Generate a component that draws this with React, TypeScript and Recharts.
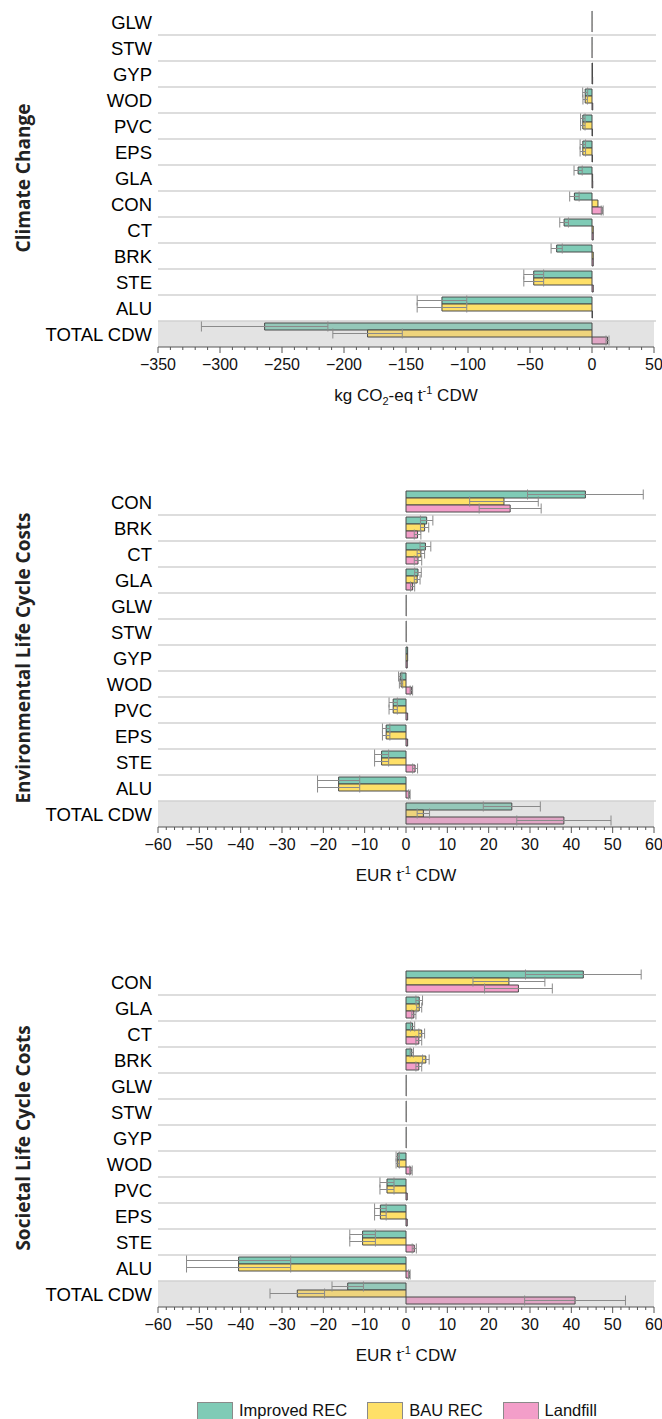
import React from "react";
import { BarChart, Bar, XAxis, YAxis, ErrorBar, ReferenceArea, Cell } from "recharts";

const SERIES = ["Improved REC", "BAU REC", "Landfill"];
const COLORS = ["#7fcbb6", "#fee068", "#f39ec9"];
const TOTAL_COLORS = ["#94c8b9", "#eed47c", "#e0a6c5"];

// Climate Change (kg CO2-eq / t CDW)
const ccCategories = ["GLW", "STW", "GYP", "WOD", "PVC", "EPS", "GLA", "CON", "CT", "BRK", "STE", "ALU", "TOTAL CDW"];
const ccImproved = [0.1, 0.1, 0.4, -5.5, -7.4, -7.4, -11.2, -14.2, -22.5, -28.5, -47, -121, -264];
const ccImprovedErr = [null, null, null, 2, 1.8, 2.2, 3.3, 3.8, 3.5, 4.5, 8, 20, 51];
const ccBau = [0.1, 0.1, 0.4, -5.5, -7.4, -7.4, 0.5, 4.8, 1, 1, -47, -121, -181];
const ccBauErr = [null, null, null, 1.8, 1.8, 2.2, null, null, null, null, 8, 20, 28];
const ccLandfill = [0.1, 0.1, 0.5, 0.6, 0.4, 0.4, 0.6, 8.2, 1, 1, 1, 0.4, 12.5];
const ccLandfillErr = [null, null, null, null, null, null, null, 0.8, null, null, null, null, 1.2];
const ccMajorTicks = [-350, -300, -250, -200, -150, -100, -50, 0, 50];

// Environmental Life Cycle Costs (EUR / t CDW)
const envCategories = ["CON", "BRK", "CT", "GLA", "GLW", "STW", "GYP", "WOD", "PVC", "EPS", "STE", "ALU", "TOTAL CDW"];
const envImproved = [43.4, 5.0, 4.7, 2.9, 0.1, 0.1, 0.4, -1.4, -3.1, -4.8, -5.9, -16.3, 25.6];
const envImprovedErr = [14, 1.5, 1.3, 0.8, null, null, null, 0.4, 1, 0.9, 1.7, 5.1, 6.9];
const envBau = [23.7, 4.5, 3.6, 2.7, 0.1, 0.1, 0.4, -1.2, -3.1, -4.8, -5.9, -16.3, 4.2];
const envBauErr = [8.3, 1, 0.9, 0.7, null, null, null, 0.4, 1, 0.9, 1.7, 5.1, 1.5];
const envLandfill = [25.2, 2.8, 2.9, 1.6, 0.1, 0.1, 0.3, 1.3, 0.4, 0.4, 2.2, 0.8, 38.2];
const envLandfillErr = [7.5, 0.8, 0.9, 0.5, null, null, null, 0.3, null, null, 0.6, 0.2, 11.4];

// Societal Life Cycle Costs (EUR / t CDW)
const socCategories = ["CON", "GLA", "CT", "BRK", "GLW", "STW", "GYP", "WOD", "PVC", "EPS", "STE", "ALU", "TOTAL CDW"];
const socImproved = [42.9, 3.2, 1.6, 1.4, 0.1, 0.1, 0.1, -2, -4.6, -6.2, -10.5, -40.5, -14.1];
const socImprovedErr = [14, 0.8, 0.5, 0.4, null, null, null, 0.4, 1.7, 1.4, 3.1, 12.6, 3.8];
const socBau = [24.9, 3.2, 3.8, 4.8, 0.1, 0.1, 0.1, -2, -4.6, -6.2, -10.5, -40.5, -26.3];
const socBauErr = [8.7, 0.6, 0.7, 0.8, null, null, null, 0.4, 1.7, 1.4, 3.1, 12.6, 6.6];
const socLandfill = [27.2, 1.9, 3.1, 3.1, 0.1, 0.1, 0.1, 1.2, 0.3, 0.3, 2.0, 0.8, 40.9];
const socLandfillErr = [8.2, 0.5, 0.7, 0.7, null, null, null, 0.3, null, null, 0.5, 0.2, 12.2];

const lccMajorTicks = [-60, -50, -40, -30, -20, -10, 0, 10, 20, 30, 40, 50, 60];

const FONT = "'Liberation Sans', Arial, sans-serif";

const buildRows = (cats: string[], vals: number[][], errs: (number | null)[][]) =>
  cats.map((cat, i) => ({
    cat,
    s0: vals[0][i], e0: errs[0][i],
    s1: vals[1][i], e1: errs[1][i],
    s2: vals[2][i], e2: errs[2][i],
  }));

// minor ticks between the labelled ones (axis decoration only)
const withMinor = (major: number[], perStep: number) => {
  const out: number[] = [];
  for (let i = 0; i < major.length - 1; i++) {
    const step = (major[i + 1] - major[i]) / perStep;
    for (let k = 0; k < perStep; k++) out.push(major[i] + k * step);
  }
  out.push(major[major.length - 1]);
  return out;
};

const fmt = (v: number) => (v < 0 ? "\u2212" + Math.abs(v) : String(v));

const makeTick = (major: number[]) => (props: any) => {
  const { x, y, payload } = props;
  const isMajor = major.includes(payload.value);
  return (
    <g>
      <line x1={x} x2={x} y1={y} y2={y + (isMajor ? 6 : 3)} stroke="#555" strokeWidth={1} />
      {isMajor && (
        <text x={x} y={y + 23} textAnchor="middle" fontSize={16} fill="#111" fontFamily={FONT}>
          {fmt(payload.value)}
        </text>
      )}
    </g>
  );
};

type PanelProps = {
  top: number;
  title: string;
  categories: string[];
  rows: any[];
  domain: [number, number];
  major: number[];
  xTitle: React.ReactNode;
};

function Panel({ top, title, categories, rows, domain, major, xTitle }: PanelProps) {
  const last = categories[categories.length - 1];
  return (
    <div style={{ position: "absolute", left: 0, top }}>
      <BarChart
        width={662}
        height={440}
        data={rows}
        layout="vertical"
        margin={{ top: 9, right: 8, left: 0, bottom: 0 }}
        barCategoryGap={2}
        barGap={0}
        style={{ fontFamily: FONT }}
      >
        <ReferenceArea y1={last} y2={last} fill="#e3e3e3" fillOpacity={1} stroke="none" ifOverflow="visible" />
        {categories.slice(0, -1).map((c) => (
          <ReferenceArea
            key={c}
            y1={c}
            y2={c}
            ifOverflow="visible"
            shape={(p: any) => (
              <line
                x1={p.x}
                x2={p.x + p.width + 2}
                y1={p.y + p.height}
                y2={p.y + p.height}
                stroke="#d2d2d2"
                strokeWidth={1.5}
              />
            )}
          />
        ))}
        <XAxis
          type="number"
          domain={domain}
          ticks={withMinor(major, 5)}
          interval={0}
          allowDataOverflow
          height={93}
          tickSize={0}
          tickMargin={0}
          tickLine={false}
          axisLine={{ stroke: "#555" }}
          tick={makeTick(major)}
          label={{
            content: (p: any) => {
              const vb = p.viewBox;
              return (
                <text x={vb.x + vb.width / 2} y={vb.y + 54} textAnchor="middle" fontSize={17} fill="#111" fontFamily={FONT}>
                  {xTitle}
                </text>
              );
            },
          }}
        />
        <YAxis
          type="category"
          dataKey="cat"
          width={158}
          tickLine={false}
          axisLine={false}
          tickSize={0}
          tickMargin={6}
          interval={0}
          tick={{ fontSize: 18.5, fill: "#000", fontFamily: FONT }}
          label={{
            content: (p: any) => {
              const vb = p.viewBox;
              const cy = vb.y + vb.height / 2;
              return (
                <text
                  x={23}
                  y={cy}
                  transform={`rotate(-90 23 ${cy})`}
                  textAnchor="middle"
                  dominantBaseline="central"
                  fontSize={19}
                  fontWeight={700}
                  fill="#222"
                  fontFamily="'Open Sans', sans-serif"
                >
                  {title}
                </text>
              );
            },
          }}
        />
        {[0, 1, 2].map((s) => (
          <Bar
            key={s}
            dataKey={`s${s}`}
            name={SERIES[s]}
            fill={COLORS[s]}
            stroke="#4a4a4a"
            strokeWidth={1}
            isAnimationActive={false}
          >
            {rows.map((r) => (
              <Cell
                key={r.cat}
                fill={r.cat === last ? TOTAL_COLORS[s] : COLORS[s]}
                stroke={Math.abs(r[`s${s}`]) < 0.2 ? "#7a7a7a" : "#4a4a4a"}
              />
            ))}
            <ErrorBar dataKey={`e${s}`} direction="x" width={5} stroke="#8a8a8a" strokeWidth={1} />
          </Bar>
        ))}
      </BarChart>
    </div>
  );
}

const ccTitle = (
  <>
    kg CO<tspan fontSize={11} dy={4}>2</tspan>
    <tspan dy={-4}>-eq t</tspan>
    <tspan fontSize={11} dy={-7}>-1</tspan>
    <tspan dy={7}> CDW</tspan>
  </>
);

const eurTitle = (
  <>
    EUR t<tspan fontSize={11} dy={-7}>-1</tspan>
    <tspan dy={7}> CDW</tspan>
  </>
);

export default function App() {
  const ccRows = buildRows(ccCategories, [ccImproved, ccBau, ccLandfill], [ccImprovedErr, ccBauErr, ccLandfillErr]);
  const envRows = buildRows(envCategories, [envImproved, envBau, envLandfill], [envImprovedErr, envBauErr, envLandfillErr]);
  const socRows = buildRows(socCategories, [socImproved, socBau, socLandfill], [socImprovedErr, socBauErr, socLandfillErr]);

  return (
    <div style={{ position: "absolute", left: 0, top: 0, width: 662, height: 1419, background: "#fff", fontFamily: FONT }}>
      <Panel top={0} title="Climate Change" categories={ccCategories} rows={ccRows} domain={[-350, 50]} major={ccMajorTicks} xTitle={ccTitle} />
      <Panel top={480} title="Environmental Life Cycle Costs" categories={envCategories} rows={envRows} domain={[-60, 60]} major={lccMajorTicks} xTitle={eurTitle} />
      <Panel top={960} title="Societal Life Cycle Costs" categories={socCategories} rows={socRows} domain={[-60, 60]} major={lccMajorTicks} xTitle={eurTitle} />
      <div style={{ position: "absolute", top: 1401, left: 197, display: "flex", alignItems: "center", fontSize: 16.5, color: "#111" }}>
        {SERIES.map((s, i) => (
          <div key={s} style={{ display: "flex", alignItems: "center", marginRight: 20 }}>
            <div style={{ width: 34, height: 16, background: COLORS[i], border: "1px solid #8a8a8a", marginRight: 6 }} />
            <span>{s}</span>
          </div>
        ))}
      </div>
    </div>
  );
}
